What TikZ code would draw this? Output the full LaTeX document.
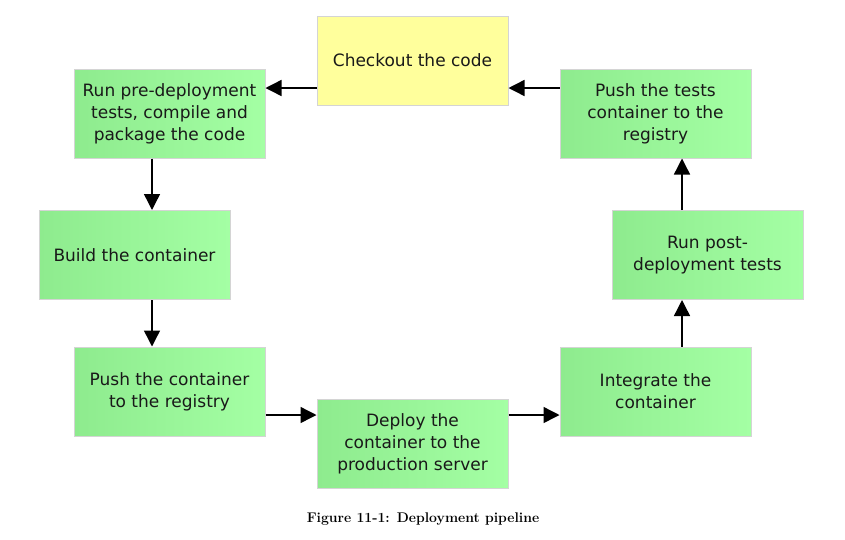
\documentclass[tikz,border=0pt]{standalone}
\usepackage{fontspec}
\setsansfont{DejaVu Sans}
\usetikzlibrary{arrows.meta}
\definecolor{gL}{HTML}{8EEB8E}
\definecolor{gR}{HTML}{A4FFA4}
\definecolor{yel}{HTML}{FFFF9C}
\definecolor{bord}{HTML}{D4D4D4}
\begin{document}
\begin{tikzpicture}[x=1pt,y=-1pt,
  boxbase/.style={draw=bord,line width=1pt,minimum width=191pt,minimum height=89pt,inner sep=0pt,align=center,
    font=\sffamily\fontsize{17}{22}\selectfont,text=black!90},
  gbox/.style={boxbase,left color=gL,right color=gR},
  ybox/.style={boxbase,fill=yel},
  arr/.style={line width=1.4pt,-{Triangle[length=16pt,width=16pt]}}]
\useasboundingbox (0,0) rectangle (845,539);
\node[ybox] (chk) at (412.5,60.5) {Checkout the code};
\node[gbox] (pre) at (169.5,113.5) {Run pre-deployment\\tests, compile and\\package the code};
\node[gbox] (bld) at (134.5,255) {Build the container};
\node[gbox] (pcr) at (169.5,391.5) {Push the container\\to the registry};
\node[gbox] (dep) at (412.5,443.5) {Deploy the\\container to the\\production server};
\node[gbox] (int) at (655.5,391.5) {Integrate the\\container};
\node[gbox] (post) at (707.5,255) {Run post-\\deployment tests};
\node[gbox] (ptr) at (655.5,113.5) {Push the tests\\container to the\\registry};
\node[font=\rmfamily\bfseries\fontsize{14}{16}\selectfont] (cap) at (423,519) {Figure 11-1: Deployment pipeline};
\draw[arr] (chk.west |- 0,88) -- (pre.east |- 0,88);
\draw[arr] (ptr.west |- 0,88) -- (chk.east |- 0,88);
\draw[arr] (pre.south -| 152,0) -- (bld.north -| 152,0);
\draw[arr] (bld.south -| 152,0) -- (pcr.north -| 152,0);
\draw[arr] (pcr.east |- 0,415) -- (dep.west |- 0,415);
\draw[arr] (dep.east |- 0,415) -- (int.west |- 0,415);
\draw[arr] (int.north -| 682,0) -- (post.south -| 682,0);
\draw[arr] (post.north -| 682,0) -- (ptr.south -| 682,0);
\end{tikzpicture}
\end{document}
